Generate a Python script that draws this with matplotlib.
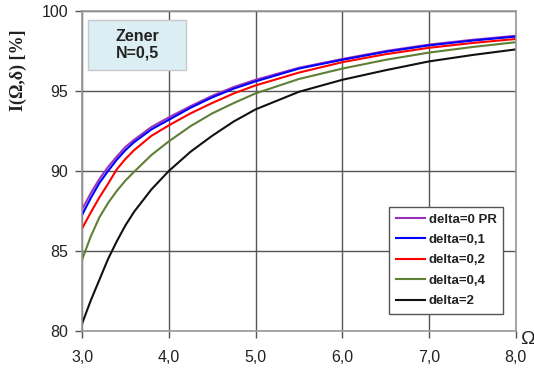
import matplotlib.pyplot as plt
from matplotlib.patches import Rectangle

omega = [3.0, 3.1, 3.2, 3.3, 3.4, 3.5, 3.6, 3.8, 4.0, 4.25, 4.5, 4.75, 5.0,
         5.5, 6.0, 6.5, 7.0, 7.5, 8.0]

d0 = [87.6, 88.6, 89.5, 90.25, 90.9, 91.5, 91.95, 92.75, 93.35, 94.05, 94.7,
      95.25, 95.7, 96.45, 97.0, 97.5, 97.9, 98.2, 98.45]
d01 = [87.25, 88.3, 89.25, 90.0, 90.7, 91.3, 91.8, 92.6, 93.2, 93.95, 94.6,
       95.15, 95.6, 96.4, 96.95, 97.45, 97.85, 98.15, 98.4]
d02 = [86.4, 87.4, 88.35, 89.2, 90.1, 90.75, 91.3, 92.2, 92.85, 93.6, 94.25,
       94.85, 95.35, 96.15, 96.8, 97.3, 97.7, 98.0, 98.25]
d04 = [84.45, 85.9, 87.1, 88.0, 88.75, 89.4, 89.95, 91.0, 91.85, 92.8, 93.6,
       94.25, 94.85, 95.75, 96.4, 96.95, 97.4, 97.75, 98.05]
d2 = [80.45, 81.9, 83.2, 84.5, 85.6, 86.6, 87.45, 88.85, 90.0, 91.2, 92.2,
      93.1, 93.85, 94.95, 95.7, 96.3, 96.85, 97.25, 97.6]

series = [d0, d01, d02, d04, d2]
labels = ["delta=0 PR", "delta=0,1", "delta=0,2", "delta=0,4", "delta=2"]
colors = ["#9933bb", "#0000ff", "#ff0000", "#5f7f35", "#111111"]

xticks = [3, 4, 5, 6, 7, 8]
xticklabels = ["3,0", "4,0", "5,0", "6,0", "7,0", "8,0"]
yticks = [80, 85, 90, 95, 100]

plt.rcParams['font.family'] = ['Liberation Sans', 'DejaVu Sans']

fig = plt.figure(figsize=(5.34, 3.79), dpi=100)
ax = fig.add_axes([0.1536, 0.1266, 0.8124, 0.8444])

for y, lab, c in zip(series, labels, colors):
    ax.plot(omega, y, color=c, lw=1.5, label=lab)

ax.set_xlim(3, 8)
ax.set_ylim(80, 100)
ax.set_xticks(xticks)
ax.set_xticklabels(xticklabels)
ax.set_yticks(yticks)
ax.tick_params(labelsize=11.5, colors="#555555", labelcolor="#222222", length=5, width=1)
ax.tick_params(axis="x", pad=9)
ax.tick_params(axis="y", pad=5)
ax.grid(True, color="#555555", lw=1)
for s in ax.spines.values():
    s.set_color("#999999")
    s.set_linewidth(1.2)

# y label sits near the top, as in the original
fig.text(0.034, 0.815, "I(Ω,δ) [%]", family=['Liberation Serif', 'DejaVu Serif'],
         fontsize=13, fontweight="bold", rotation=90, ha="center", va="center", color="#222222")
fig.text(0.987, 0.103, "Ω", fontsize=14, ha="center", va="center", color="#222222")

# Zener box
ax.add_patch(Rectangle((0.014, 0.816), 0.226, 0.156, transform=ax.transAxes,
                       fc="#dbeef4", ec="#c8c8c8", lw=1, zorder=3))
ax.text(0.127, 0.894, "Zener\nN=0,5", transform=ax.transAxes, ha="center", va="center",
        fontsize=11.5, fontweight="bold", color="#222222", linespacing=1.15, zorder=4)

leg = ax.legend(loc="lower right", fontsize=9.5, frameon=True, fancybox=False,
                handlelength=2.2, handletextpad=0.3, borderpad=0.5, labelspacing=0.62,
                bbox_to_anchor=(0.986, 0.033))
leg.get_frame().set_edgecolor("#555555")
leg.get_frame().set_linewidth(1)
leg.get_frame().set_alpha(1)
for t in leg.get_texts():
    t.set_fontweight("bold")
    t.set_color("#222222")

fig.savefig("out.png", dpi=100)
